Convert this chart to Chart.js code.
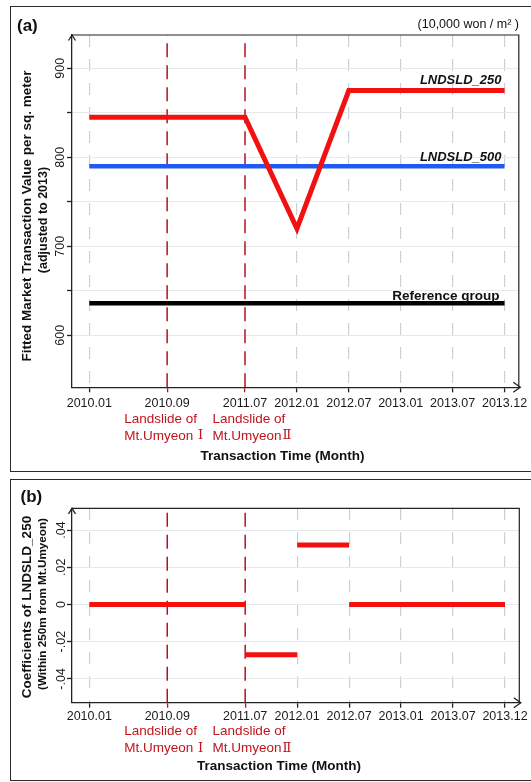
<!DOCTYPE html>
<html>
<head>
<meta charset="utf-8">
<script src="https://cdn.jsdelivr.net/npm/chart.js@4.4.1/dist/chart.umd.min.js"></script>
<style>
  html, body { margin: 0; padding: 0; background: #fff; width: 531px; height: 782px; overflow: hidden; }
  .panel { position: absolute; left: 9.5px; width: 540px; border: 1.5px solid #2b2b2b; box-sizing: border-box; }
  #panelA { top: 5.5px; height: 466px; }
  #panelB { top: 478.5px; height: 302px; }
  canvas { position: absolute; left: 0; }
  #chartA { top: 0; }
  #chartB { top: 475px; }
</style>
</head>
<body>
<div class="panel" id="panelA"></div>
<div class="panel" id="panelB"></div>
<canvas id="chartA" width="531" height="475"></canvas>
<canvas id="chartB" width="531" height="307"></canvas>
<script>
// months on the x axis and where each one sits on the drawn (uneven) axis
const months = ["2010.01", "2010.09", "2011.07", "2012.01", "2012.07", "2013.01", "2013.07", "2013.12"];
const monthPos = [0, 1.5, 3, 4, 5, 6, 7, 8];
const landslideMonths = ["2010.09", "2011.07"];
const landslideNames = ["Mt.Umyeon ", "Mt.Umyeon"];
const landslideNumerals = ["\u2160", "\u2161"];

// (a) fitted market transaction value, 10,000 won / m2
const lndsld250 = [845, 845, 845, 720, 875, 875, 875, 875];
const lndsld500 = [790, 790, 790, 790, 790, 790, 790, 790];
const referenceGroup = [636, 636, 636, 636, 636, 636, 636, 636];
const valueTicks = [600, 650, 700, 750, 800, 850, 900];

// (b) coefficients of LNDSLD_250, one flat step per period
const coefFrom = ["2010.01", "2011.07", "2012.01", "2012.07"];
const coefTo = ["2011.07", "2012.01", "2012.07", "2013.12"];
const coefValues = [0, -0.027, 0.032, 0];
const coefTicks = [-0.04, -0.02, 0, 0.02, 0.04];
const coefTickLabels = ["-.04", "-.02", "0", ".02", ".04"];

const FONT = "'Liberation Sans', Arial, sans-serif";
const NUMERAL_FONT = "'DejaVu Serif', 'Noto Sans CJK KR', serif";
const DARK_RED = "#b3121c";
const X_MIN = -0.333, X_MAX = 8.275;
const A_MIN = 541.6, A_MAX = 937.4;
const B_MIN = -0.0528, B_MAX = 0.0517;

Chart.defaults.font.family = FONT;
Chart.defaults.color = "#1a1a1a";

const posOf = m => monthPos[months.indexOf(m)];
const landslidePos = landslideMonths.map(posOf);
const isLandslide = c => c.tick && landslidePos.includes(c.tick.value);

function text(ctx, str, x, y, font, color, align, rot) {
    ctx.save();
    ctx.translate(x, y);
    if (rot) ctx.rotate(rot);
    ctx.font = font;
    ctx.fillStyle = color;
    ctx.textAlign = align || "left";
    ctx.textBaseline = "middle";
    ctx.fillText(str, 0, 0);
    const w = ctx.measureText(str).width;
    ctx.restore();
    return w;
}

function xAxis(pad) {
    return {
        type: "linear", min: X_MIN, max: X_MAX,
        afterBuildTicks: s => { s.ticks = monthPos.map(v => ({ value: v })); },
        afterFit: s => { s.height = 40; },
        ticks: { callback: (v, i) => months[i], font: { size: 12.5 }, color: "#1a1a1a", padding: pad, maxRotation: 0, autoSkip: false },
        grid: {
            color: c => isLandslide(c) ? "rgba(0,0,0,0)" : "#c9d0d7",
            lineWidth: 1.2,
            tickColor: c => isLandslide(c) ? DARK_RED : "#222",
            tickLength: 5, tickWidth: 1.3, tickBorderDash: []
        },
        border: { color: "#222", width: 1.3, dash: [12, 12] }
    };
}

function yAxis(min, max, tickVals, label, pad) {
    return {
        type: "linear", min: min, max: max,
        afterBuildTicks: s => { s.ticks = tickVals.map(v => ({ value: v })); },
        afterFit: s => { s.width = 40; },
        ticks: { callback: label, font: { size: 12.5 }, color: "#1a1a1a", padding: pad, minRotation: 90, maxRotation: 90, crossAlign: "center" },
        grid: { color: "#e5ebeb", lineWidth: 1, tickColor: "#222", tickLength: 5, tickWidth: 1.3 },
        border: { color: "#222", width: 1.3 }
    };
}

// landslide markers as vertical dashed datasets
function landslideSets(min, max) {
    return landslidePos.map(p => ({
        data: [{ x: p, y: min }, { x: p, y: max }],
        borderColor: DARK_RED, borderWidth: 1.5, borderDash: [14, 8]
    }));
}

// frame, arrows and the texts around the plot
function decor(spec) {
    return {
        id: "decor",
        afterDraw(chart) {
            const { ctx, chartArea: a, scales } = chart;
            ctx.save();
            ctx.strokeStyle = "#222";
            ctx.lineWidth = 1.2;
            ctx.beginPath();
            ctx.moveTo(a.left, a.top);
            ctx.lineTo(a.right, a.top);
            ctx.lineTo(a.right, a.bottom);
            ctx.stroke();
            ctx.lineWidth = 1.3;
            ctx.beginPath();
            ctx.moveTo(a.left - 3.5, a.top + 5.5);
            ctx.lineTo(a.left, a.top);
            ctx.lineTo(a.left + 3.5, a.top + 5.5);
            ctx.moveTo(a.right, a.bottom);
            ctx.lineTo(a.right + 1.5, a.bottom);
            ctx.moveTo(a.right - 5.5, a.bottom - 5);
            ctx.lineTo(a.right + 1.5, a.bottom);
            ctx.lineTo(a.right - 5.5, a.bottom + 5);
            ctx.stroke();
            ctx.restore();

            text(ctx, spec.panel, spec.panelX, spec.panelY, "bold 17px " + FONT, "#111");
            spec.yTitle.forEach(t => text(ctx, t[0], t[2], t[3], "bold " + t[1] + "px " + FONT, "#111", "center", -Math.PI / 2));

            const x = scales.x;
            landslideMonths.forEach((m, i) => {
                const px = x.getPixelForValue(posOf(m)) + [-43, -32.6][i];
                text(ctx, "Landslide of", px, a.bottom + spec.ls1, "13.5px " + FONT, "#c0141c");
                const w = text(ctx, landslideNames[i], px, a.bottom + spec.ls2, "13.5px " + FONT, "#c0141c");
                text(ctx, landslideNumerals[i], px + w + 1, a.bottom + spec.ls2, "13px " + NUMERAL_FONT, "#c0141c");
            });
            text(ctx, "Transaction Time (Month)", spec.xTitleX, a.bottom + spec.xTitleDy, "bold 13.5px " + FONT, "#111", "center");
            if (spec.extra) spec.extra(ctx, chart);
        }
    };
}

const lineDefaults = { pointRadius: 0, tension: 0, fill: false, spanGaps: false };

new Chart(document.getElementById("chartA"), {
    type: "line",
    data: {
        datasets: [
            { data: monthPos.map((p, i) => ({ x: p, y: lndsld250[i] })), borderColor: "#f21010", borderWidth: 5 },
            { data: monthPos.map((p, i) => ({ x: p, y: lndsld500[i] })), borderColor: "#1f5af2", borderWidth: 4.5 },
            { data: monthPos.map((p, i) => ({ x: p, y: referenceGroup[i] })), borderColor: "#000", borderWidth: 4.5 },
            ...landslideSets(A_MIN, A_MAX)
        ]
    },
    options: {
        responsive: false, animation: false,
        datasets: { line: lineDefaults },
        layout: { padding: { left: 32, top: 35, right: 11.7, bottom: 47.7 } },
        plugins: { legend: { display: false }, tooltip: { enabled: false } },
        scales: {
            x: xAxis(3.5),
            y: yAxis(A_MIN, A_MAX, valueTicks, v => v % 100 === 0 ? String(v) : "", -3.9)
        }
    },
    plugins: [decor({
        panel: "(a)", panelX: 17, panelY: 26.5,
        yTitle: [["Fitted Market Transaction Value per sq. meter", 13.5, 27, 216], ["(adjusted to 2013)", 12.5, 43.5, 220]],
        ls1: 32, ls2: 48.7, xTitleX: 282.5, xTitleDy: 68.7,
        extra: (ctx, chart) => {
            const x = chart.scales.x, y = chart.scales.y;
            const end = x.getPixelForValue(monthPos[monthPos.length - 1]);
            text(ctx, "(10,000 won / m\u00b2 )", 519, 25, "12.5px " + FONT, "#111", "right");
            text(ctx, "LNDSLD_250", end - 3, y.getPixelForValue(lndsld250[lndsld250.length - 1]) - 10, "italic bold 13px " + FONT, "#111", "right");
            text(ctx, "LNDSLD_500", end - 3, y.getPixelForValue(lndsld500[lndsld500.length - 1]) - 8.5, "italic bold 13px " + FONT, "#111", "right");
            text(ctx, "Reference group", end - 5, y.getPixelForValue(referenceGroup[referenceGroup.length - 1]) - 7, "bold 13.5px " + FONT, "#111", "right");
        }
    })]
});

// step segments for (b), broken apart with null points
const coefPoints = [];
coefValues.forEach((v, i) => {
    coefPoints.push({ x: posOf(coefFrom[i]), y: v }, { x: posOf(coefTo[i]), y: v });
    if (i < coefValues.length - 1) coefPoints.push({ x: posOf(coefTo[i]), y: null });
});

new Chart(document.getElementById("chartB"), {
    type: "line",
    data: {
        datasets: [
            { data: coefPoints, borderColor: "#f21010", borderWidth: 5 },
            ...landslideSets(B_MIN, B_MAX)
        ]
    },
    options: {
        responsive: false, animation: false,
        datasets: { line: lineDefaults },
        layout: { padding: { left: 32, top: 33.3, right: 11.7, bottom: 39.3 } },
        plugins: { legend: { display: false }, tooltip: { enabled: false } },
        scales: {
            x: xAxis(1.5),
            y: yAxis(B_MIN, B_MAX, coefTicks, (v, i) => coefTickLabels[i], -5.5)
        }
    },
    plugins: [decor({
        panel: "(b)", panelX: 20.5, panelY: 22.5,
        yTitle: [["Coefficients of LNDSLD_250", 13.5, 27, 132], ["(Within 250m from Mt.Umyeon)", 11.7, 43, 129]],
        ls1: 29, ls2: 45.6, xTitleX: 279, xTitleDy: 64
    })]
});
</script>
</body>
</html>
